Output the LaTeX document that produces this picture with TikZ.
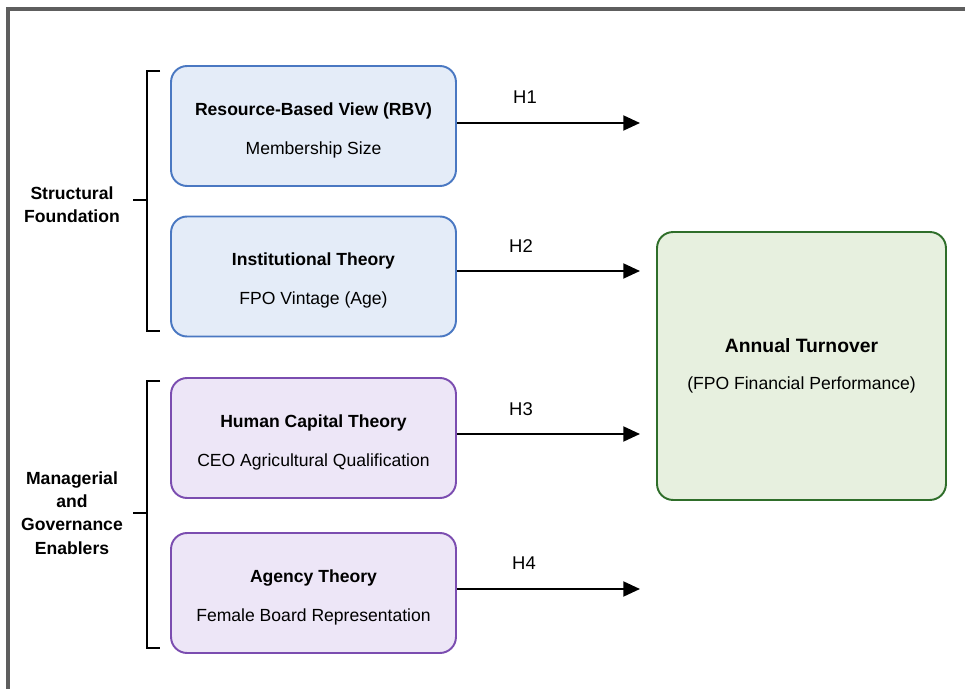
\documentclass[tikz,border=0pt]{standalone}
\usepackage{fontspec}
\setmainfont{Liberation Sans}
\usetikzlibrary{arrows.meta}

\definecolor{framegray}{HTML}{5E5E5E}
\definecolor{theoblue}{HTML}{4A78C2}
\definecolor{theobluefill}{HTML}{E4ECF8}
\definecolor{theopurple}{HTML}{7B4DB0}
\definecolor{theopurplefill}{HTML}{EDE6F7}
\definecolor{outgreen}{HTML}{2F6E2A}
\definecolor{outgreenfill}{HTML}{E7F0DF}

\newcommand{\topstrut}{\rule{0pt}{12pt}}

\tikzset{
  theory/.style={draw, rounded corners=0.32cm, line width=1.1pt,
    minimum width=5.7cm, minimum height=2.4cm, align=center,
    font=\fontsize{10}{12}\selectfont},
  bluebox/.style={theory, draw=theoblue, fill=theobluefill},
  purplebox/.style={theory, draw=theopurple, fill=theopurplefill},
  outbox/.style={draw=outgreen, fill=outgreenfill, rounded corners=0.32cm,
    line width=1.1pt, minimum width=5.78cm, minimum height=5.36cm,
    align=center, font=\fontsize{10}{12}\selectfont},
  grouplabel/.style={align=center, font=\fontsize{10}{13.2}\selectfont\bfseries},
  hlabel/.style={font=\fontsize{10.5}{12}\selectfont},
  hyp/.style={line width=1.2pt, -{Triangle[length=9.5pt,width=8.5pt]}},
  bracket/.style={line width=1.1pt}
}

\begin{document}
\begin{tikzpicture}[x=0.02cm,y=-0.02cm]
  \useasboundingbox (0,0) rectangle (965,689);
  % outer frame (only top and left edges visible)
  \draw[framegray, line width=1.9pt] (8,689) -- (8,9) -- (965,9);

  % theory boxes
  \node[bluebox] (rbv) at (313.5,126) {\topstrut{\bfseries Resource-Based View (RBV)}\\[10pt]Membership Size};
  \node[bluebox] (inst) at (313.5,276.5) {\topstrut{\bfseries Institutional Theory}\\[10pt]FPO Vintage (Age)};
  \node[purplebox] (hct) at (313.5,438) {\topstrut{\bfseries Human Capital Theory}\\[10pt]CEO Agricultural Qualification};
  \node[purplebox] (agency) at (313.5,593) {\topstrut{\bfseries Agency Theory}\\[10pt]Female Board Representation};

  % outcome
  \node[outbox] (turnover) at (801.5,366) {{\fontsize{11}{13}\selectfont\bfseries Annual Turnover}\\[9pt](FPO Financial Performance)};

  % group labels and brackets
  \node[grouplabel] (structural) at (72,205) {Structural\\Foundation};
  \node[grouplabel] (managerial) at (72,513) {Managerial\\and\\Governance\\Enablers};
  \draw[bracket] (160,71) -- (147,71) -- (147,331) -- (160,331);
  \draw[bracket] (147,200) -- (133,200);
  \draw[bracket] (160,381) -- (147,381) -- (147,648) -- (160,648);
  \draw[bracket] (147,513) -- (133,513);

  % hypotheses
  \coordinate (t1) at (640,123);
  \coordinate (t2) at (640,271);
  \coordinate (t3) at (640,434);
  \coordinate (t4) at (640,589);
  \draw[hyp] (rbv.east |- t1) -- (t1);
  \draw[hyp] (inst.east |- t2) -- (t2);
  \draw[hyp] (hct.east |- t3) -- (t3);
  \draw[hyp] (agency.east |- t4) -- (t4);
  \node[hlabel] (h1) at (525,97) {H1};
  \node[hlabel] (h2) at (521,246) {H2};
  \node[hlabel] (h3) at (521,409) {H3};
  \node[hlabel] (h4) at (524,563) {H4};
\end{tikzpicture}
\end{document}
